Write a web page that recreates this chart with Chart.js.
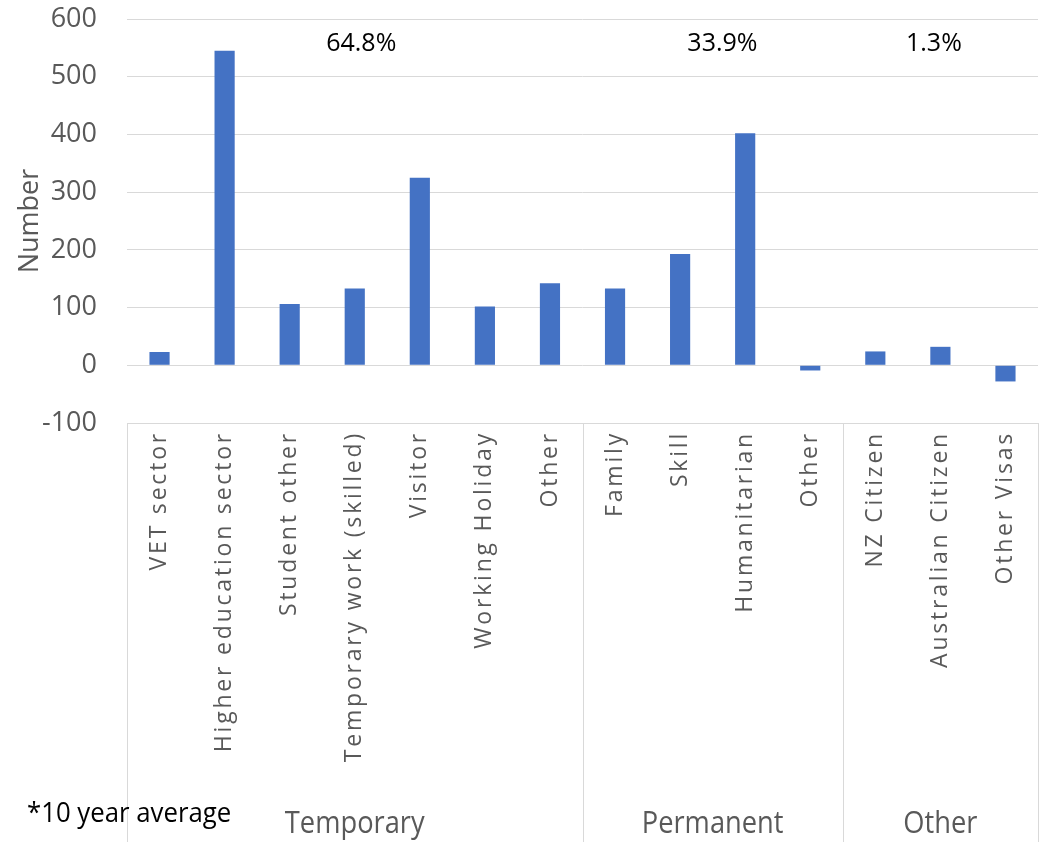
<!DOCTYPE html>
<html>
<head>
<meta charset="utf-8">
<script src="https://cdn.jsdelivr.net/npm/chart.js@4.4.1/dist/chart.umd.min.js"></script>
<style>
html,body{margin:0;padding:0;background:#fff;}
#wrap{width:1042px;height:842px;position:relative;}
</style>
</head>
<body>
<div id="wrap"><canvas id="c" width="1042" height="842"></canvas></div>
<script>
// visa categories and net numbers
const labels=['VET sector','Higher education sector','Student other','Temporary work (skilled)','Visitor','Working Holiday','Other','Family','Skill','Humanitarian','Other','NZ Citizen','Australian Citizen','Other Visas'];
const values=[23,545,106,133,325,102,142,133,193,402,-9,24,32,-28];
const groupNames=['Temporary','Permanent','Other'];
const groupSizes=[7,4,3];
const groupShares=['64.8%','33.9%','1.3%'];
const shareAt=[3.1,8.65,11.9];  // category index where each share label sits
const yTicks=[-100,0,100,200,300,400,500,600];

const GRID='#d9d9d9',TXT='#595959';
const FONT='"Open Sans",sans-serif';

// draws condensed horizontal text
function narrowText(ctx,txt,x,y,sx){
  ctx.save();ctx.translate(x,y);ctx.scale(sx,1);ctx.fillText(txt,0,0);ctx.restore();
}

// group labels, separators under the axis, shares and footnote
const groupPlugin={
  id:'groups',
  afterUpdate(chart){
    // wider spacing for the rotated category names
    const x=chart.scales.x;
    if(x._spaced)return;
    const orig=x.drawLabels.bind(x);
    x.drawLabels=function(area){
      const c=chart.ctx;c.save();c.letterSpacing='2.8px';orig(area);c.restore();
    };
    x._spaced=true;
  },
  afterDraw(chart){
    const {ctx,chartArea:a,scales:{x}}=chart;
    const bottom=chart.height;
    ctx.save();
    ctx.strokeStyle=GRID;ctx.lineWidth=1;
    let start=0;
    const edges=[a.left];
    groupSizes.forEach(n=>{start+=n;edges.push(x.getPixelForValue(start-0.5));});
    edges[edges.length-1]=a.right;
    edges.forEach(px=>{
      ctx.beginPath();ctx.moveTo(Math.round(px)+0.5,a.bottom);ctx.lineTo(Math.round(px)+0.5,bottom);ctx.stroke();
    });
    ctx.fillStyle=TXT;ctx.textAlign='center';ctx.textBaseline='middle';
    ctx.font='31px '+FONT;
    groupNames.forEach((g,i)=>narrowText(ctx,g,(edges[i]+edges[i+1])/2,824,0.88));
    ctx.fillStyle='#000';
    ctx.font='25px '+FONT;
    groupShares.forEach((s,i)=>ctx.fillText(s,x.getPixelForValue(shareAt[i]),44));
    ctx.textAlign='left';
    ctx.font='28px '+FONT;
    narrowText(ctx,'*10 year average',27,814,0.92);
    ctx.restore();
  }
};

new Chart(document.getElementById('c'),{
  type:'bar',
  data:{labels,datasets:[{data:values,backgroundColor:'#4472C4',categoryPercentage:1,barPercentage:0.31}]},
  options:{
    responsive:false,animation:false,
    layout:{autoPadding:false,padding:{top:19,right:4,left:0,bottom:0}},
    plugins:{legend:{display:false},tooltip:{enabled:false}},
    scales:{
      x:{
        grid:{display:false},
        border:{color:GRID,width:1},
        ticks:{color:TXT,font:{family:FONT,size:23},minRotation:90,maxRotation:90,autoSkip:false,padding:0},
        afterFit(s){s.height=419;s.paddingLeft=0;s.paddingRight=0;}
      },
      y:{
        min:-100,max:600,
        afterBuildTicks(s){s.ticks=yTicks.map(v=>({value:v}));},
        grid:{color:GRID,lineWidth:1,drawTicks:false},
        border:{display:false},
        ticks:{color:TXT,font:{family:FONT,size:27},padding:30},
        title:{display:true,text:'Number',color:TXT,font:{family:FONT,size:27},padding:{top:14,bottom:0}},
        afterFit(s){s.width=127;s.paddingTop=0;s.paddingBottom=0;}
      }
    }
  },
  plugins:[groupPlugin]
});
</script>
</body>
</html>
